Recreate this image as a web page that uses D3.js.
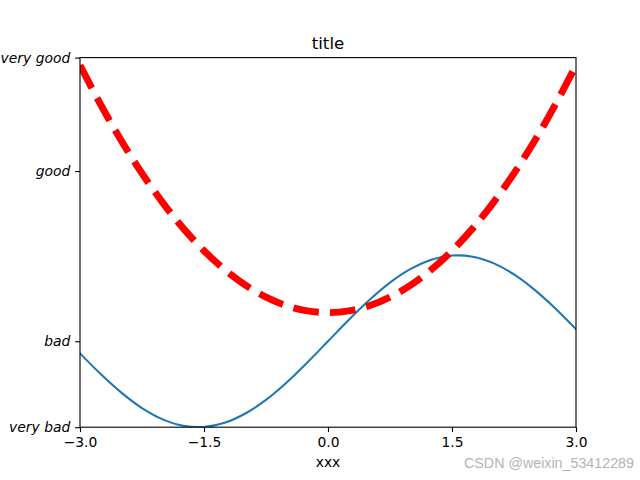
<!DOCTYPE html>
<html>
<head>
<meta charset="utf-8">
<script src="https://cdn.jsdelivr.net/npm/d3@7"></script>
<style>
  html, body { margin: 0; padding: 0; background: #fff; }
  svg { display: block; }
</style>
</head>
<body>
<script>
// ---- data ----
const xValues = [-3, -2.75, -2.5, -2.25, -2, -1.75, -1.5, -1.25, -1, -0.75, -0.5, -0.25, 0,
                 0.25, 0.5, 0.75, 1, 1.25, 1.5, 1.75, 2, 2.25, 2.5, 2.75, 3];
const blueValues = [-0.141, -0.382, -0.598, -0.778, -0.909, -0.984, -0.997, -0.949, -0.841, -0.682, -0.479, -0.247, 0,
                    0.247, 0.479, 0.682, 0.841, 0.949, 0.997, 0.984, 0.909, 0.778, 0.598, 0.382, 0.141];
const redValues = [3.21, 2.753, 2.333, 1.953, 1.613, 1.313, 1.053, 0.833, 0.653, 0.513, 0.413, 0.353, 0.333,
                   0.353, 0.413, 0.513, 0.653, 0.833, 1.053, 1.313, 1.613, 1.953, 2.333, 2.753, 3.21];
const xTicks = [-3, -1.5, 0, 1.5, 3];
const yTickValues = [-1, 0, 1.98, 3.3];
const yTickLabels = ["very bad", "bad", "good", "very good"];
const xDomain = [-3, 3];
const yDomain = [-1, 3.3];
const titleText = "title";
const xLabelText = "xxx";
const watermarkText = "CSDN @weixin_53412289";

// ---- layout ----
const W = 640, H = 480;
const mLeft = 80, mRight = 576, mTop = 57.6, mBottom = 427.2;
const pt = 100 / 72;

const svg = d3.select("body").append("svg").attr("width", W).attr("height", H);

const x = d3.scaleLinear().domain(xDomain).range([mLeft, mRight]);
const y = d3.scaleLinear().domain(yDomain).range([mBottom, mTop]);

svg.append("defs").append("clipPath").attr("id", "clip")
  .append("rect").attr("x", mLeft).attr("y", mTop).attr("width", mRight - mLeft).attr("height", mBottom - mTop);

const plot = svg.append("g").attr("clip-path", "url(#clip)");

const blueData = xValues.map((v, i) => [v, blueValues[i]]);
const redData = xValues.map((v, i) => [v, redValues[i]]);
const line = d3.line().x(d => x(d[0])).y(d => y(d[1])).curve(d3.curveCatmullRom.alpha(0.5));

plot.append("path").datum(blueData)
  .attr("d", line).attr("fill", "none").attr("stroke", "#1f77b4")
  .attr("stroke-width", 1.5 * pt).attr("stroke-linecap", "square").attr("stroke-linejoin", "round");

const lw = 5 * pt;
plot.append("path").datum(redData)
  .attr("d", line).attr("fill", "none").attr("stroke", "#ff0000")
  .attr("stroke-width", lw).attr("stroke-dasharray", `${3.7 * lw},${1.6 * lw}`)
  .attr("stroke-linecap", "butt").attr("stroke-linejoin", "round");

// axes
const tickLen = 3.5 * pt;
const font = "'DejaVu Sans', sans-serif";
const fs = 10 * pt;

const xAxis = svg.append("g").attr("transform", `translate(0,${mBottom})`)
  .call(d3.axisBottom(x).tickValues(xTicks).tickSize(tickLen).tickPadding(3.5 * pt)
    .tickFormat(d => d3.format(".1f")(d).replace("-", "\u2212")));
const yAxis = svg.append("g").attr("transform", `translate(${mLeft},0)`)
  .call(d3.axisLeft(y).tickValues(yTickValues).tickSize(tickLen).tickPadding(3.5 * pt)
    .tickFormat((d, i) => yTickLabels[i]));

[xAxis, yAxis].forEach(g => {
  g.select(".domain").remove();
  g.selectAll(".tick line").attr("stroke", "#000").attr("stroke-width", 0.8 * pt);
  g.selectAll(".tick text").attr("fill", "#000").style("font-family", font).style("font-size", fs + "px");
});
yAxis.selectAll(".tick text").style("font-style", "italic");

// frame
svg.append("rect").attr("x", mLeft).attr("y", mTop).attr("width", mRight - mLeft).attr("height", mBottom - mTop)
  .attr("fill", "none").attr("stroke", "#000").attr("stroke-width", 0.8 * pt);

// title & label
svg.append("text").attr("x", (mLeft + mRight) / 2).attr("y", mTop - 6 * pt)
  .attr("text-anchor", "middle").style("font-family", font).style("font-size", (12 * pt) + "px")
  .text(titleText);
svg.append("text").attr("x", (mLeft + mRight) / 2).attr("y", 467)
  .attr("text-anchor", "middle").style("font-family", font).style("font-size", fs + "px")
  .text(xLabelText);

// watermark
svg.append("text").attr("x", 634).attr("y", 468).attr("text-anchor", "end")
  .style("font-family", "'Liberation Sans', Arial, sans-serif").style("font-size", "14px")
  .attr("fill", "#b4b4b4").attr("textLength", 170).attr("lengthAdjust", "spacingAndGlyphs")
  .text(watermarkText);
</script>
</body>
</html>
